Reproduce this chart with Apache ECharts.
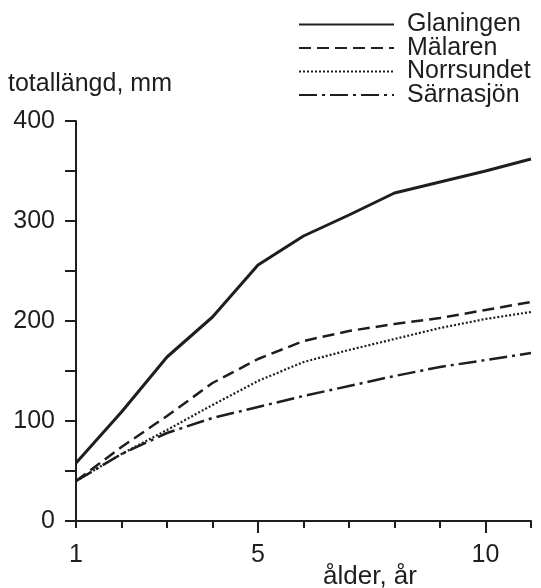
<!DOCTYPE html>
<html>
<head>
<meta charset="utf-8">
<script src="https://cdn.jsdelivr.net/npm/echarts@6/dist/echarts.min.js"></script>
<style>html,body{margin:0;padding:0;background:#fff}#c{width:541px;height:588px}</style>
</head>
<body>
<div id="c"></div>
<script>
const ages = [1, 2, 3, 4, 5, 6, 7, 8, 9, 10, 11];
const glaningen = [58, 109, 164, 204, 256, 285, 306, 328, 339, 350, 362];
const malaren = [40, 74, 105, 138, 162, 180, 190, 197, 203, 211, 219];
const norrsundet = [40, 67, 91, 116, 140, 159, 171, 182, 193, 202, 209];
const sarnasjon = [40, 67, 88, 103, 114, 125, 135, 145, 154, 161, 168];
const xLabels = [1, 5, 10];
const xMajorTicks = [5, 10];
const yLabels = [0, 100, 200, 300, 400];
const seriesNames = ['Glaningen', 'Mälaren', 'Norrsundet', 'Särnasjön'];

const FONT = '"Liberation Sans", Arial, Helvetica, sans-serif';
const INK = '#1e1e1e';
const pairs = arr => ages.map((a, i) => [a, arr[i]]);

const chart = echarts.init(document.getElementById('c'), null, {renderer: 'canvas'});
const mk = (name, data, width, type) => ({
  name, type: 'line', data: pairs(data), symbol: 'none', smooth: false,
  xAxisIndex: 0, yAxisIndex: 0,
  lineStyle: {color: INK, width, type, cap: 'butt'},
  itemStyle: {color: INK},
  emphasis: {disabled: true}, animation: false
});

chart.setOption({
  animation: false,
  textStyle: {fontFamily: FONT},
  grid: {left: 76, right: 10, top: 121, bottom: 67, containLabel: false},
  legend: {
    orient: 'vertical', left: 293, top: 7,
    itemWidth: 95, itemHeight: 14, itemGap: -1.5,
    itemStyle: {color: 'rgba(0,0,0,0)', borderWidth: 0, opacity: 0},
    textStyle: {fontFamily: FONT, fontSize: 25, color: INK, padding: [0, 0, 0, 8]},
    data: seriesNames
  },
  xAxis: [{
    type: 'value', min: 1, max: 11, interval: 1,
    axisLine: {show: true, lineStyle: {color: INK, width: 2}},
    axisTick: {show: true, length: 7, lineStyle: {color: INK, width: 2}},
    axisLabel: {customValues: xLabels, fontSize: 25, color: INK, fontFamily: FONT, margin: 22},
    splitLine: {show: false}
  }, {
    type: 'value', min: 1, max: 11, position: 'bottom',
    axisLine: {show: false},
    axisTick: {show: true, customValues: xMajorTicks, length: 12, lineStyle: {color: INK, width: 2}},
    axisLabel: {show: false},
    splitLine: {show: false}
  }],
  yAxis: {
    type: 'value', min: 0, max: 400, interval: 50,
    axisLine: {show: true, lineStyle: {color: INK, width: 2}},
    axisTick: {show: true, length: 11, lineStyle: {color: INK, width: 2}},
    axisLabel: {customValues: yLabels, fontSize: 25, color: INK, fontFamily: FONT, margin: 21},
    splitLine: {show: false}
  },
  graphic: [
    {type: 'text', left: 8, top: 72, style: {text: 'totallängd, mm', font: '25px ' + FONT, fill: INK}},
    {type: 'text', left: 323, top: 564, style: {text: 'ålder, år', font: '26px ' + FONT, fill: INK}}
  ],
  series: [
    mk(seriesNames[0], glaningen, 3, 'solid'),
    mk(seriesNames[1], malaren, 2.5, [12, 6]),
    mk(seriesNames[2], norrsundet, 2.2, [2, 2]),
    mk(seriesNames[3], sarnasjon, 2.5, [18, 5, 3, 5])
  ]
});
</script>
</body>
</html>
